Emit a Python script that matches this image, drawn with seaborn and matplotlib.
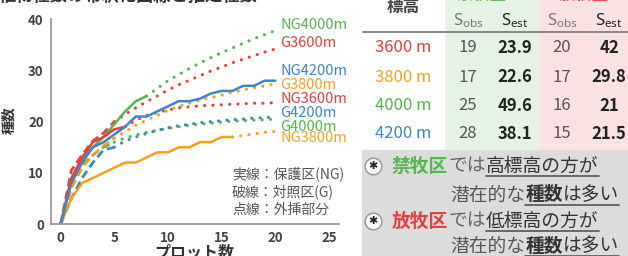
import numpy as np
import seaborn as sns
import matplotlib.pyplot as plt
from matplotlib.patches import Rectangle
from matplotlib.lines import Line2D

# observed rarefaction curves (NG = solid, G = dashed), one value per plot from 0
ng3600 = [0, 9, 13, 16, 17, 18.5, 19]
ng3800 = [0, 5, 8, 9, 10, 11, 12, 12, 13, 14, 14, 15, 15, 16, 16, 17, 17]
ng4000 = [0, 8.5, 12.5, 15, 17, 19.5, 22, 24, 25]
ng4200 = [0, 8, 12, 15, 16, 17.5, 19, 21, 21, 22, 23, 24, 24, 24.5, 25.5, 26, 26, 27, 27, 28, 28]
g3600 = [0, 10.5, 13.5, 16.2, 17.8, 20]
g3800 = [0, 7, 11, 13.5, 15.3, 16.8]
g4000 = [0, 8, 11.5, 13.5, 15, 16]
g4200 = [0, 5, 9, 12, 14.5, 15]

# extrapolated parts (dotted), from the last observed plot up to 20 plots
ng3600_ext = [19, 20.3, 21.2, 21.8, 22.3, 22.7, 22.9, 23.1, 23.2, 23.3, 23.4, 23.5, 23.6, 23.6, 23.7]
ng3800_ext = [17, 17.3, 17.6, 17.9, 18.1]
ng4000_ext = [25, 26.5, 28, 29.2, 30.4, 31.5, 32.5, 33.5, 34.4, 35.3, 36.2, 37.0, 37.8]
g3600_ext = [20, 21.4, 22.7, 23.9, 25.0, 26.2, 27.2, 28.1, 29.0, 29.9, 30.7, 31.5, 32.2, 32.9, 33.6, 34.2]
g3800_ext = [16.8, 18, 19.3, 20.3, 21.2, 22.2, 23, 23.6, 24.2, 24.7, 25.2, 25.7, 26.2, 26.6, 27, 27.4]
g4000_ext = [16, 16.8, 17.4, 17.9, 18.3, 18.7, 19, 19.3, 19.5, 19.7, 19.9, 20.1, 20.2, 20.3, 20.4, 20.5]
g4200_ext = [15, 16.2, 17, 17.7, 18.3, 18.8, 19.2, 19.5, 19.8, 20, 20.2, 20.4, 20.5, 20.7, 20.8, 20.9]

# curve labels at the right end
curve_labels = ["NG4000m", "G3600m", "NG4200m", "G3800m", "NG3600m", "G4200m", "G4000m", "NG3800m"]
label_y = [38.9, 35.3, 29.9, 27.1, 24.4, 21.6, 19.0, 16.9]

# table
elev_labels = ["3600 m", "3800 m", "4000 m", "4200 m"]
ng_sobs = ["19", "17", "25", "28"]
ng_sest = ["23.9", "22.6", "49.6", "38.1"]
g_sobs = ["20", "17", "16", "15"]
g_sest = ["42", "29.8", "21", "21.5"]

RED = "#e8413c"
ORANGE = "#f9a01b"
GREEN = "#52b74e"
BLUE = "#3d86c8"
elev_colors = [RED, ORANGE, GREEN, BLUE]
label_colors = [GREEN, RED, BLUE, ORANGE, RED, BLUE, GREEN, ORANGE]

sns.set_style("white")
plt.rcParams['font.family'] = ['Noto Sans CJK JP', 'DejaVu Sans']
plt.rcParams['mathtext.fontset'] = 'custom'
plt.rcParams['mathtext.rm'] = 'Noto Sans'
plt.rcParams['mathtext.bf'] = 'Noto Sans:bold'

W, H = 628, 256
fig = plt.figure(figsize=(W / 100, H / 100), dpi=100)


def px(x, y):
    return x / W, 1 - y / H


ax = fig.add_axes([50.7 / W, 1 - 224 / H, 288 / W, 204.7 / H])

dot = (0, (0.01, 2.6))
dash = (0, (3, 1.6))

ext = [(ng3600_ext, len(ng3600) - 1, RED), (ng3800_ext, len(ng3800) - 1, ORANGE),
       (ng4000_ext, len(ng4000) - 1, GREEN), (g3600_ext, len(g3600) - 1, RED),
       (g3800_ext, len(g3800) - 1, ORANGE), (g4000_ext, len(g4000) - 1, GREEN),
       (g4200_ext, len(g4200) - 1, BLUE)]
for vals, start, c in ext:
    xs = np.arange(start, start + len(vals))
    sns.lineplot(x=xs, y=vals, ax=ax, color=c, linewidth=2.3, linestyle=dot,
                 dash_capstyle='round')

for vals, c in [(g4200, BLUE), (g4000, GREEN), (g3800, ORANGE), (g3600, RED)]:
    sns.lineplot(x=np.arange(len(vals)), y=vals, ax=ax, color=c, linewidth=2,
                 linestyle=dash)

for vals, c in [(ng3800, ORANGE), (ng4000, GREEN), (ng3600, RED), (ng4200, BLUE)]:
    sns.lineplot(x=np.arange(len(vals)), y=vals, ax=ax, color=c, linewidth=1.8)

ax.set_xlim(-0.93, 25.9)
ax.set_ylim(0, 40)
ax.set_xticks([0, 5, 10, 15, 20, 25])
ax.set_yticks([0, 10, 20, 30, 40])
for s in ['top', 'right']:
    ax.spines[s].set_visible(False)
for s in ['left', 'bottom']:
    ax.spines[s].set_color('#9a9a9a')
    ax.spines[s].set_linewidth(1.3)
ax.tick_params(axis='both', length=3, width=1, color='#9a9a9a', pad=2,
               labelsize=9.5, labelcolor='#444444')
for t in ax.get_xticklabels() + ax.get_yticklabels():
    t.set_fontweight('bold')

ax.set_ylabel("種数", fontsize=10, fontweight='bold', color='#333333')
ax.yaxis.set_label_coords(-0.118, 0.508)
ax.set_xlabel("プロット数", fontsize=11.5, fontweight='bold', color='#333333')
ax.xaxis.set_label_coords(0.5, -0.14)
ax.xaxis.label.set_va('center')

for lab, y, c in zip(curve_labels, label_y, label_colors):
    ax.text(20.45, y, lab, color=c, fontsize=10.5, va='center', ha='left', clip_on=False)

for i, s in enumerate(["実線：保護区(NG)", "破線：対照区(G)", "点線：外挿部分"]):
    fig.text(*px(232, [174, 192, 210][i]), s, fontsize=10, color='#555555',
             ha='left', va='center')

# title (cut at top)
fig.text(*px(-1, -4), "植物種数の希釈化曲線と推定種数", fontsize=12.4, fontweight='bold',
         color='#333333', ha='left', va='center')

# table backgrounds
fig.patches.append(Rectangle(px(445, 150), 94 / W, 150 / H, transform=fig.transFigure,
                             facecolor='#e5f3e4', edgecolor='none', zorder=0))
fig.patches.append(Rectangle(px(539, 150), 89 / W, 150 / H, transform=fig.transFigure,
                             facecolor='#fbe2e2', edgecolor='none', zorder=0))
fig.text(*px(481, -5), "禁牧区", fontsize=12, fontweight='bold', color=GREEN, ha='center', va='center')
fig.text(*px(584, -5), "放牧区", fontsize=12, fontweight='bold', color=RED, ha='center', va='center')
fig.text(*px(403, 7), "標高", fontsize=12, fontweight='bold', color='#444444', ha='center', va='center')

col_x = [468, 515, 562, 609]
fig.text(*px(col_x[0], 21), r'$\mathrm{S_{obs}}$', fontsize=12, color='#777777', ha='center', va='center')
fig.text(*px(col_x[1], 21), r'$\mathbf{S_{est}}$', fontsize=12, color='#222222', ha='center', va='center')
fig.text(*px(col_x[2], 21), r'$\mathrm{S_{obs}}$', fontsize=12, color='#777777', ha='center', va='center')
fig.text(*px(col_x[3], 21), r'$\mathbf{S_{est}}$', fontsize=12, color='#222222', ha='center', va='center')
fig.lines.append(Line2D([363 / W, 1], [1 - 32 / H] * 2, transform=fig.transFigure,
                        color='#888888', linewidth=1.4))

row_y = [48, 77, 106, 134]
for i, y in enumerate(row_y):
    fig.text(*px(403, y), elev_labels[i], fontsize=12, color=elev_colors[i], ha='center', va='center')
    fig.text(*px(col_x[0], y), ng_sobs[i], fontsize=12, color='#555555', ha='center', va='center')
    fig.text(*px(col_x[1], y), ng_sest[i], fontsize=12, fontweight='bold', color='#222222', ha='center', va='center')
    fig.text(*px(col_x[2], y), g_sobs[i], fontsize=12, color='#555555', ha='center', va='center')
    fig.text(*px(col_x[3], y), g_sest[i], fontsize=12, fontweight='bold', color='#222222', ha='center', va='center')

# gray message box
fig.patches.append(Rectangle(px(362, 256), 266 / W, 106 / H, transform=fig.transFigure,
                             facecolor='#dcdcdc', edgecolor='none', zorder=0))

EM = 18.8
FS = 13.5


def seg_line(x0, y, parts):
    x = x0
    for txt, color, weight, underline in parts:
        fig.text(*px(x, y), txt, fontsize=FS, color=color, fontweight=weight,
                 ha='left', va='center')
        w = EM * len(txt)
        if underline:
            fig.lines.append(Line2D([x / W, (x + w) / W], [1 - (y + 10) / H] * 2,
                                    transform=fig.transFigure, color='#555555', linewidth=1.2))
        x += w


for y1, y2, word, wcolor, cond in [(166, 195, "禁牧区", GREEN, "高標高の方が"),
                                   (221, 246, "放牧区", RED, "低標高の方が")]:
    fig.lines.append(Line2D([373 / W], [1 - y1 / H], transform=fig.transFigure, marker='o',
                            markersize=12, markerfacecolor='#f6f6f6',
                            markeredgecolor='#8c8c8c', markeredgewidth=0.9))
    fig.text(*px(373, y1), "✱", family=['DejaVu Sans'], fontsize=8, color='#222222',
             ha='center', va='center')
    seg_line(391.7, y1, [(word, wcolor, 'bold', False), ("では", '#666666', 'normal', False),
                         (cond, '#333333', 'normal', True)])
    seg_line(450, y2, [("潜在的な", '#555555', 'normal', False), ("種数", '#333333', 'bold', True),
                       ("は多い", '#333333', 'normal', True)])

fig.savefig("out.png", dpi=100)
